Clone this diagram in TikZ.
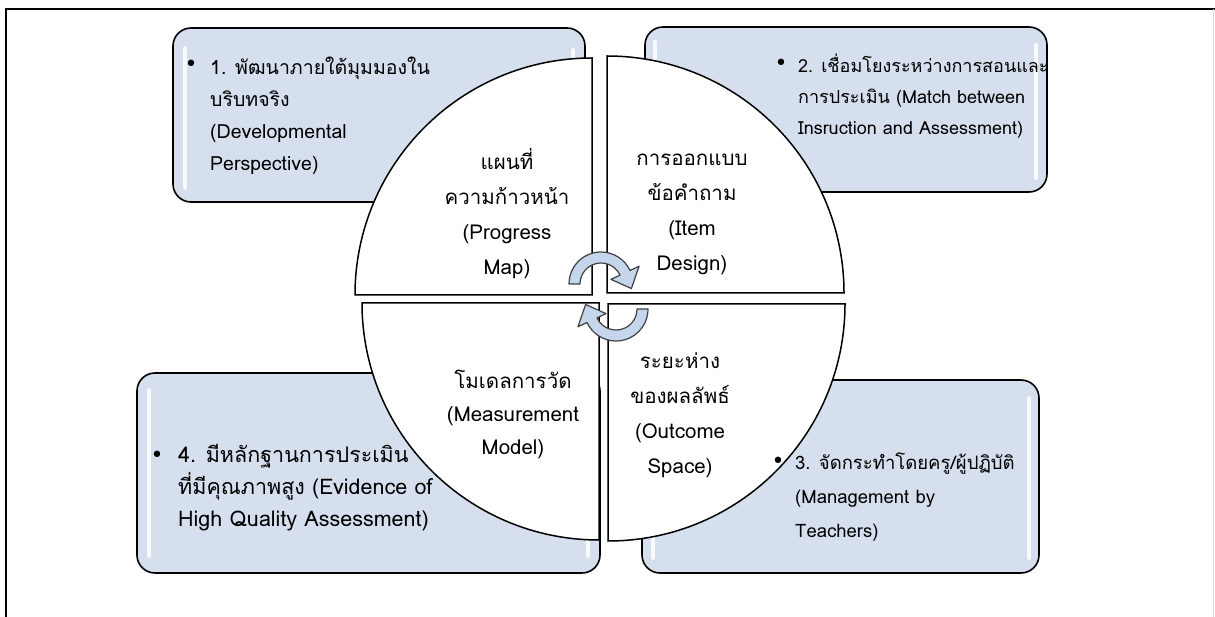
\documentclass[tikz,border=0pt]{standalone}
\usepackage{fontspec}
\newfontfamily\thaifont[Script=Thai]{Loma}
\newfontfamily\symfont{DejaVu Sans}
\usetikzlibrary{calc}
\definecolor{boxblue}{HTML}{D6DFEE}
\definecolor{arrowblue}{HTML}{C5D5EB}
\begin{document}
\begin{tikzpicture}[x=1pt,y=-1pt,
  infobox/.style={draw=black, line width=1.6pt, fill=boxblue, rounded corners=18pt},
  gloss/.style={white, line width=4pt, line cap=round, opacity=0.85},
  quad/.style={draw=black, line width=1.5pt, fill=white},
  bodytext/.style={font=\thaifont\fontsize{19.5}{32}\selectfont, align=left, anchor=west, inner sep=0pt},
  quadtext/.style={font=\thaifont\fontsize{20.5}{35}\selectfont, align=center, inner sep=0pt},
  bulletmark/.style={font=\symfont\fontsize{22}{22}\selectfont, inner sep=0pt},
  cyc/.style={draw=black!75, line width=1.2pt, fill=arrowblue, line join=round}
]
\useasboundingbox (0,0) rectangle (1215,617);
% frame
\draw[line width=1.5pt] (6,617) -- (6,9) -- (1215,9);
\draw[black!15, line width=1pt] (1213.5,9) -- (1213.5,617);

% info boxes
\path[infobox] (173,28) rectangle (585,202);
\path[infobox] (645,27) rectangle (1047,192);
\path[infobox] (642,380) rectangle (1039,573);
\path[infobox] (137,373) rectangle (600,573);
% gloss highlights
\draw[gloss] (185,48) -- (185,188);
\draw[gloss] (573,50) -- (573,188);
\draw[gloss] (655,42) -- (655,178);
\draw[gloss] (1036,45) -- (1036,178);
\draw[gloss] (653,395) -- (653,558);
\draw[gloss] (1029,398) -- (1029,558);
\draw[gloss] (149,390) -- (149,556);
\draw[gloss] (588,390) -- (588,556);

% quadrants
\draw[quad] (592,295) -- ++(0,-237) arc[start angle=270,end angle=180,radius=237] -- cycle;
\draw[quad] (607,293) -- ++(0,-237) arc[start angle=270,end angle=360,radius=237] -- cycle;
\draw[quad] (599,303) -- ++(-237,0) arc[start angle=180,end angle=90,radius=237] -- cycle;
\draw[quad] (608,304) -- ++(237,0) arc[start angle=0,end angle=90,radius=237] -- cycle;

% box texts
\node[bulletmark] (b1) at (191,66) {•};
\node[bodytext] (t1) at (210,116) {1. พัฒนาภายใต้มุมมองใน\\บริบทจริง\\(Developmental\\Perspective)};
\node[bulletmark] (b2) at (781,65) {•};
\node[bodytext, font=\thaifont\fontsize{18}{31}\selectfont] (t2) at (798,96) {2. เชื่อมโยงระหว่างการสอนและ\\การประเมิน (Match between\\Insruction and Assessment)};
\node[bulletmark] (b3) at (778,463) {•};
\node[bodytext, font=\thaifont\fontsize{18.5}{34}\selectfont] (t3) at (795,497) {3. จัดกระทำโดยครู/ผู้ปฏิบัติ\\(Management by\\Teachers)};
\node[bulletmark] (b4) at (157,457) {•};
\node[bodytext, font=\thaifont\fontsize{21.5}{32}\selectfont] (t4) at (178,488) {4. มีหลักฐานการประเมิน\\ที่มีคุณภาพสูง (Evidence of\\High Quality Assessment)};

% quadrant texts
\node[quadtext] (q1) at (507,214) {แผนที่\\ความก้าวหน้า\\(Progress\\Map)};
\node[quadtext] (q2) at (692,214) {การออกแบบ\\ข้อคำถาม\\(Item\\Design)};
\node[quadtext, font=\thaifont\fontsize{20.5}{33}\selectfont] (q3) at (513,414) {โมเดลการวัด\\(Measurement\\Model)};
\node[quadtext] (q4) at (680,415) {ระยะห่าง\\ของผลลัพธ์\\(Outcome\\Space)};

% cycle arrows
\coordinate (cu) at (601,284);
\coordinate (cl) at (616,309);
\path[cyc] ($(cu)+(180:32)$) arc[start angle=180,end angle=335,radius=32]
  -- ($(cu)+(335:42)$) -- ($(cu)+(335:26.5)+(68:17)$) -- ($(cu)+(335:11)$)
  -- ($(cu)+(335:21)$) arc[start angle=335,end angle=180,radius=21] -- cycle;
\path[cyc] ($(cl)+(0:32)$) arc[start angle=0,end angle=155,radius=32]
  -- ($(cl)+(155:42)$) -- ($(cl)+(155:26.5)+(248:17)$) -- ($(cl)+(155:11)$)
  -- ($(cl)+(155:21)$) arc[start angle=155,end angle=0,radius=21] -- cycle;
\end{tikzpicture}
\end{document}
